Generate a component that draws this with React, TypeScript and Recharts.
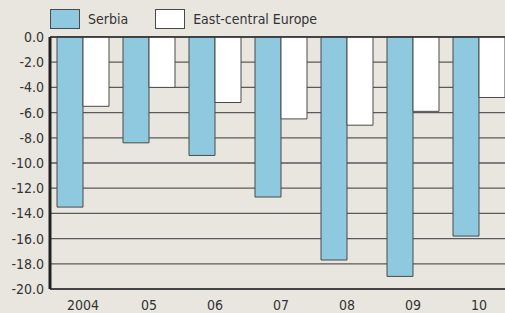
import { BarChart, Bar, XAxis, YAxis, CartesianGrid, ReferenceLine } from "recharts"

const years = ["2004", "05", "06", "07", "08", "09", "10"]
const serbia = [-13.5, -8.4, -9.4, -12.7, -17.7, -19.0, -15.8]
const eastCentral = [-5.5, -4.0, -5.2, -6.5, -7.0, -5.9, -4.8]
const yTicks = [0, -2, -4, -6, -8, -10, -12, -14, -16, -18, -20]

const data = years.map((year, i) => ({
  year,
  serbia: serbia[i],
  eastCentral: eastCentral[i],
}))

const FONT = "'DejaVu Sans Condensed', 'Liberation Sans Narrow', sans-serif"
const BLUE = "#8ec9df"
const BG = "#e9e6e0"
const EDGE = "#4a4a4a"

function LegendItem({ color, label }: { color: string; label: string }) {
  return (
    <div style={{ display: "flex", alignItems: "center", marginRight: 27 }}>
      <div
        style={{
          width: 28,
          height: 18,
          background: color,
          border: `1px solid ${EDGE}`,
          marginRight: 8,
        }}
      />
      <span style={{ fontSize: 14, color: "#333" }}>{label}</span>
    </div>
  )
}

export default function App() {
  return (
    <div
      style={{
        position: "fixed",
        left: 0,
        top: 0,
        width: 505,
        height: 313,
        overflow: "hidden",
        background: BG,
        fontFamily: FONT,
      }}
    >
      <div style={{ position: "absolute", left: 50, top: 9, display: "flex" }}>
        <LegendItem color={BLUE} label="Serbia" />
        <LegendItem color="#ffffff" label="East-central Europe" />
      </div>
      <BarChart
        width={512}
        height={313}
        data={data}
        margin={{ top: 37, right: 0, left: 0, bottom: 0 }}
        barGap={0}
        barSize={26}
      >
        <CartesianGrid vertical={false} stroke="#5a5a5a" strokeWidth={1.3} />
        <XAxis
          dataKey="year"
          height={24}
          tickLine={false}
          tickSize={0}
          tickMargin={11}
          axisLine={{ stroke: "#333", strokeWidth: 1.5 }}
          tick={{ fontSize: 14, fill: "#333", fontFamily: FONT }}
        />
        <YAxis
          width={50}
          domain={[-20, 0]}
          ticks={yTicks}
          interval={0}
          tickFormatter={(v: number) => v.toFixed(1)}
          tickLine={false}
          tickSize={0}
          tickMargin={6}
          axisLine={{ stroke: "#222", strokeWidth: 3 }}
          tick={{ fontSize: 14, fill: "#333", fontFamily: FONT }}
        />
        <ReferenceLine y={0} stroke="#333" strokeWidth={1.5} />
        <Bar
          dataKey="serbia"
          fill={BLUE}
          stroke={EDGE}
          strokeWidth={1}
          isAnimationActive={false}
        />
        <Bar
          dataKey="eastCentral"
          fill="#ffffff"
          stroke={EDGE}
          strokeWidth={1}
          isAnimationActive={false}
        />
      </BarChart>
    </div>
  )
}
